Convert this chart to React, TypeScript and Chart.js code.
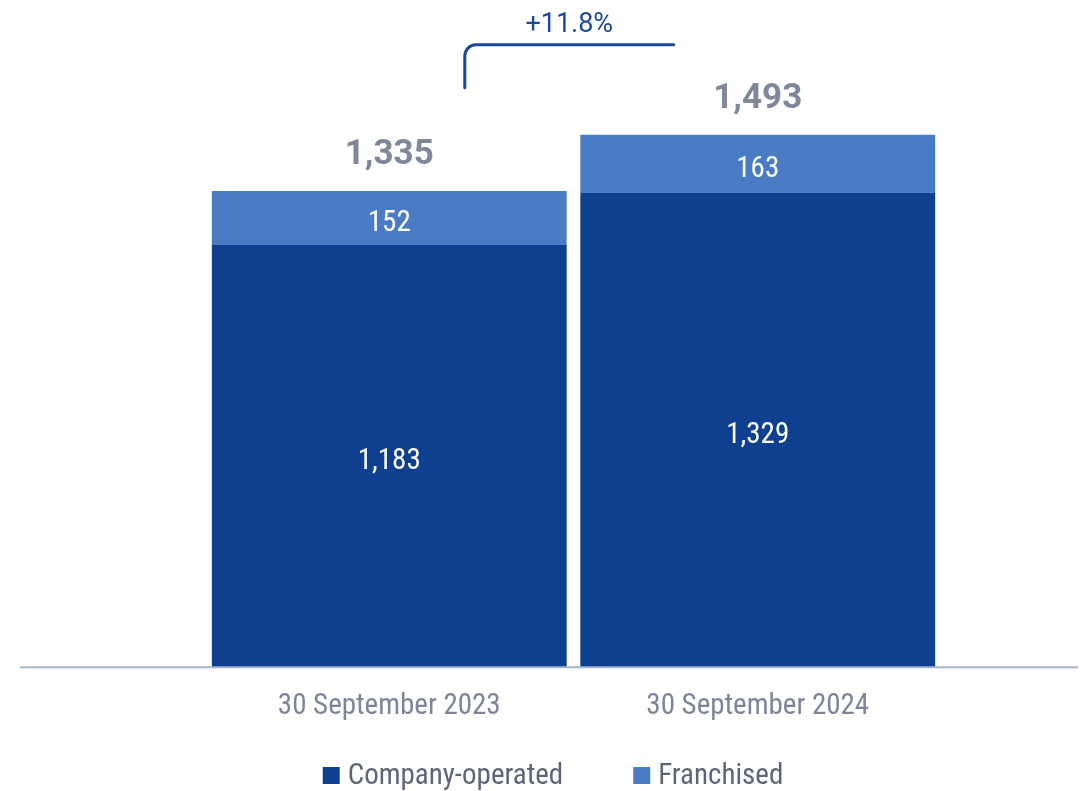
import React, { useEffect, useRef } from "react";
import { Chart, registerables } from "chart.js";

Chart.register(...registerables);

const CATEGORIES = ["30 September 2023", "30 September 2024"];
const COMPANY_OPERATED = [1183, 1329];
const FRANCHISED = [152, 163];
const TOTAL_LABELS = ["1,335", "1,493"];
const GROWTH_LABEL = "+11.8%";
const SERIES_NAMES = ["Company-operated", "Franchised"];
const SERIES_COLORS = ["#0F3F8F", "#4A7CC6"];

const FONT = "'Liberation Sans Narrow', 'Roboto Condensed', Roboto, sans-serif";
const WIDE_FONT = "Roboto, 'Noto Sans', sans-serif";

const overlayPlugin = {
  id: "overlay",
  afterDatasetsDraw(chart: any) {
    const ctx = chart.ctx as CanvasRenderingContext2D;
    const { chartArea } = chart;
    ctx.save();

    // baseline rule
    ctx.strokeStyle = "#A7B5CA";
    ctx.lineWidth = 2;
    ctx.beginPath();
    ctx.moveTo(20, chartArea.bottom);
    ctx.lineTo(chart.width - 10, chartArea.bottom);
    ctx.stroke();

    // segment labels
    ctx.textAlign = "center";
    ctx.textBaseline = "alphabetic";
    ctx.fillStyle = "#FFFFFF";
    ctx.font = `29px ${FONT}`;
    chart.data.datasets.forEach((ds: any, di: number) => {
      const meta = chart.getDatasetMeta(di);
      meta.data.forEach((bar: any, i: number) => {
        const { x, y, base } = bar.getProps(["x", "y", "base"], true);
        ctx.fillText(Number(ds.data[i]).toLocaleString("en-US"), x, (y + base) / 2 + 13);
      });
    });

    // totals
    const topMeta = chart.getDatasetMeta(chart.data.datasets.length - 1);
    ctx.fillStyle = "#80879A";
    ctx.font = `bold 35px ${WIDE_FONT}`;
    const tops: number[] = [];
    const xs: number[] = [];
    topMeta.data.forEach((bar: any, i: number) => {
      const { x, y } = bar.getProps(["x", "y"], true);
      tops.push(y);
      xs.push(x);
      ctx.fillText(TOTAL_LABELS[i], x, y - 27);
    });

    // growth bracket
    const catW = xs[1] - xs[0];
    const left = xs[0] + catW * 0.205;
    const right = xs[1] - catW * 0.228;
    const hy = tops[1] - 90;
    const vy = tops[1] - 47;
    const r = 11;
    ctx.strokeStyle = "#1B4899";
    ctx.lineWidth = 3;
    ctx.lineCap = "round";
    ctx.beginPath();
    ctx.moveTo(left, vy);
    ctx.lineTo(left, hy + r);
    ctx.arcTo(left, hy, left + r, hy, r);
    ctx.lineTo(right, hy);
    ctx.stroke();
    ctx.fillStyle = "#1B4899";
    ctx.font = `27px ${WIDE_FONT}`;
    ctx.fillText(GROWTH_LABEL, (left + right) / 2, hy - 13);

    // legend
    ctx.font = `29px ${FONT}`;
    ctx.textAlign = "left";
    const box = 17;
    const gap = 8;
    const itemGap = 70;
    const widths = SERIES_NAMES.map((n) => ctx.measureText(n).width);
    const total = widths.reduce((a, w) => a + box + gap + w, 0) + itemGap * (SERIES_NAMES.length - 1);
    let lx = chart.width / 2 + 9 - total / 2;
    const baseY = 784;
    SERIES_NAMES.forEach((n, i) => {
      ctx.fillStyle = SERIES_COLORS[i];
      ctx.fillRect(lx, baseY - box, box, box);
      ctx.fillStyle = "#5E6579";
      ctx.fillText(n, lx + box + gap, baseY);
      lx += box + gap + widths[i] + itemGap;
    });

    ctx.restore();
  },
};

export default function App() {
  const ref = useRef<HTMLCanvasElement>(null);
  useEffect(() => {
    if (!ref.current) return;
    const chart = new Chart(ref.current, {
      type: "bar",
      data: {
        labels: CATEGORIES,
        datasets: [
          {
            label: SERIES_NAMES[0],
            data: COMPANY_OPERATED,
            backgroundColor: SERIES_COLORS[0],
            borderWidth: 0,
          },
          {
            label: SERIES_NAMES[1],
            data: FRANCHISED,
            backgroundColor: SERIES_COLORS[1],
            borderWidth: 0,
          },
        ],
      },
      options: {
        responsive: false,
        animation: false,
        devicePixelRatio: 1,
        datasets: { bar: { barPercentage: 1, categoryPercentage: 0.963 } },
        layout: { padding: { left: 205, right: 146, top: 0, bottom: 45 } },
        plugins: { legend: { display: false }, tooltip: { enabled: false } },
        scales: {
          x: {
            stacked: true,
            grid: { display: false, drawTicks: false },
            border: { display: false },
            ticks: {
              padding: 22,
              color: "#7F8598",
              font: { family: FONT, size: 29 },
            },
          },
          y: {
            stacked: true,
            display: false,
            min: 0,
            max: 1870,
          },
        },
      },
      plugins: [overlayPlugin],
    });
    return () => chart.destroy();
  }, []);
  return (
    <div style={{ position: "absolute", left: 0, top: 0, width: 1088, height: 791 }}>
      <canvas ref={ref} width={1088} height={791} />
    </div>
  );
}
